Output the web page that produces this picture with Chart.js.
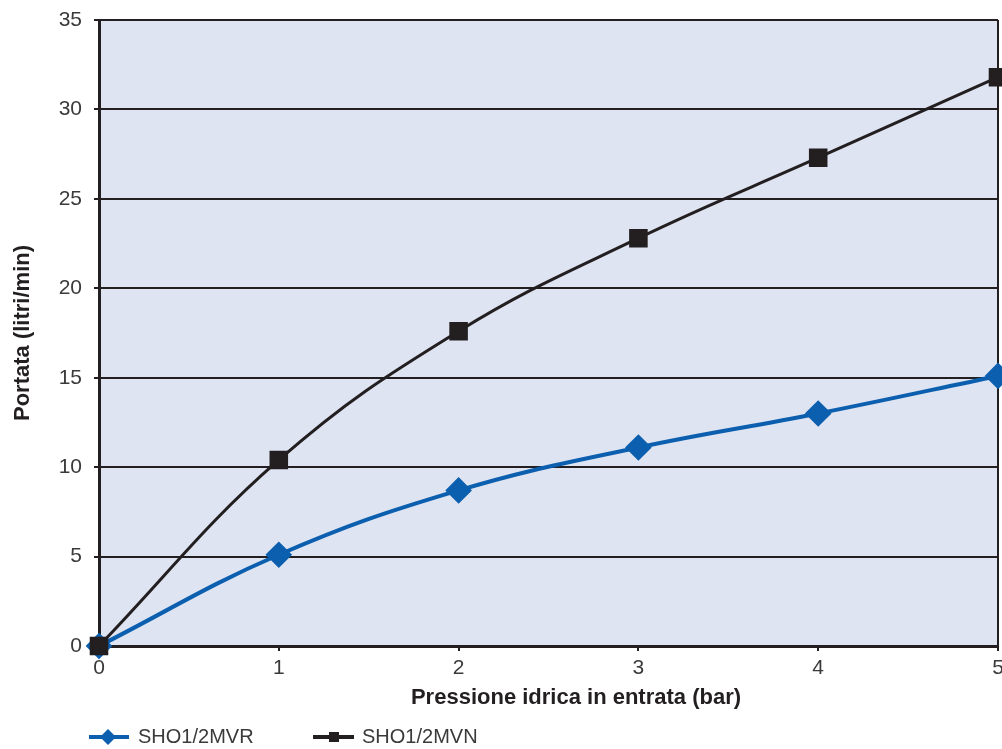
<!DOCTYPE html>
<html>
<head>
<meta charset="utf-8">
<script src="https://cdn.jsdelivr.net/npm/chart.js@4"></script>
<style>
  html, body { margin: 0; padding: 0; background: #fff; }
  #wrap { width: 1002px; height: 749px; position: relative; }
</style>
</head>
<body>
<div id="wrap"><canvas id="chart"></canvas></div>
<script>
// pressure (bar)
const pressures = [0, 1, 2, 3, 4, 5];
// flow rate (litri/min)
const flowMVR = [0, 5.1, 8.7, 11.1, 13.0, 15.1];
const flowMVN = [0, 10.4, 17.6, 22.8, 27.3, 31.8];
const seriesNames = ['SHO1/2MVR', 'SHO1/2MVN'];
const yTicks = [0, 5, 10, 15, 20, 25, 30, 35];

const INK = '#231f20';
const BLUE = '#0b5fae';
const FONT = '"Liberation Sans", Arial, sans-serif';

// plot background
const plotBg = {
    id: 'plotBg',
    beforeDraw(chart) {
        const { ctx, chartArea: a } = chart;
        ctx.save();
        ctx.fillStyle = '#dfe4f2';
        ctx.fillRect(a.left, a.top, a.right - a.left, a.bottom - a.top);
        ctx.restore();
    }
};

// x title + legend with line and marker, like the original
const bottomStuff = {
    id: 'bottomStuff',
    afterDraw(chart) {
        const { ctx } = chart;
        ctx.save();
        ctx.fillStyle = INK;
        ctx.font = 'bold 22px ' + FONT;
        ctx.textAlign = 'center';
        ctx.textBaseline = 'middle';
        ctx.fillText('Pressione idrica in entrata (bar)', 576, 698);

        const items = [
            { x0: 89, x1: 129, mx: 108, text: 138 },
            { x0: 313, x1: 354, mx: 334, text: 362 }
        ];
        chart.data.datasets.forEach((ds, i) => {
            const it = items[i];
            const y = 737;
            ctx.strokeStyle = ds.borderColor;
            ctx.lineWidth = 4;
            ctx.beginPath();
            ctx.moveTo(it.x0, y);
            ctx.lineTo(it.x1, y);
            ctx.stroke();
            ctx.fillStyle = ds.borderColor;
            if (ds.pointStyle === 'rectRot') {
                ctx.beginPath();
                ctx.moveTo(it.mx, y - 8);
                ctx.lineTo(it.mx + 8, y);
                ctx.lineTo(it.mx, y + 8);
                ctx.lineTo(it.mx - 8, y);
                ctx.closePath();
                ctx.fill();
            } else {
                ctx.fillRect(it.mx - 5, y - 5, 10, 10);
            }
            ctx.fillStyle = '#3a3a3a';
            ctx.font = '20px ' + FONT;
            ctx.textAlign = 'left';
            ctx.fillText(ds.label, it.text, y);
        });
        ctx.restore();
    }
};

new Chart(document.getElementById('chart'), {
    type: 'line',
    data: {
        labels: pressures,
        datasets: [
            {
                label: seriesNames[0],
                data: flowMVR,
                borderColor: BLUE,
                backgroundColor: BLUE,
                borderWidth: 4,
                pointStyle: 'rectRot',
                pointRadius: 10.5,
                pointHoverRadius: 10.5,
                tension: 0.4,
                clip: false,
                order: 1
            },
            {
                label: seriesNames[1],
                data: flowMVN,
                borderColor: INK,
                backgroundColor: INK,
                borderWidth: 3,
                pointStyle: 'rect',
                pointRadius: 11,
                pointHoverRadius: 11,
                tension: 0.4,
                clip: false,
                order: 0
            }
        ]
    },
    options: {
        responsive: true,
        maintainAspectRatio: false,
        animation: false,
        layout: {
            autoPadding: false,
            padding: { left: 0, top: 20, right: 4, bottom: 0 }
        },
        plugins: {
            legend: { display: false },
            tooltip: { enabled: false }
        },
        scales: {
            x: {
                type: 'linear',
                min: 0,
                max: 5,
                afterFit(scale) {
                    scale.height = 103;
                    scale.paddingLeft = 0;
                    scale.paddingRight = 0;
                },
                border: { color: INK, width: 3 },
                grid: {
                    color: ctx => ctx.index === pressures.length - 1 ? INK : 'transparent',
                    lineWidth: 2,
                    tickColor: INK,
                    tickLength: 5
                },
                ticks: {
                    stepSize: 1,
                    padding: 5,
                    color: '#3a3a3a',
                    font: { family: FONT, size: 21 }
                }
            },
            y: {
                min: 0,
                max: 35,
                afterFit(scale) {
                    scale.width = 99;
                    scale.paddingTop = 0;
                    scale.paddingBottom = 0;
                },
                afterBuildTicks(scale) { scale.ticks = yTicks.map(v => ({ value: v })); },
                border: { color: INK, width: 3 },
                grid: {
                    color: INK,
                    lineWidth: 2,
                    tickColor: INK,
                    tickLength: 5
                },
                ticks: {
                    padding: 12,
                    color: '#3a3a3a',
                    font: { family: FONT, size: 21 }
                },
                title: {
                    display: true,
                    text: 'Portata (litri/min)',
                    color: INK,
                    font: { family: FONT, size: 22, weight: 'bold' },
                    padding: { top: 10, bottom: 0 }
                }
            }
        }
    },
    plugins: [plotBg, bottomStuff]
});
</script>
</body>
</html>
